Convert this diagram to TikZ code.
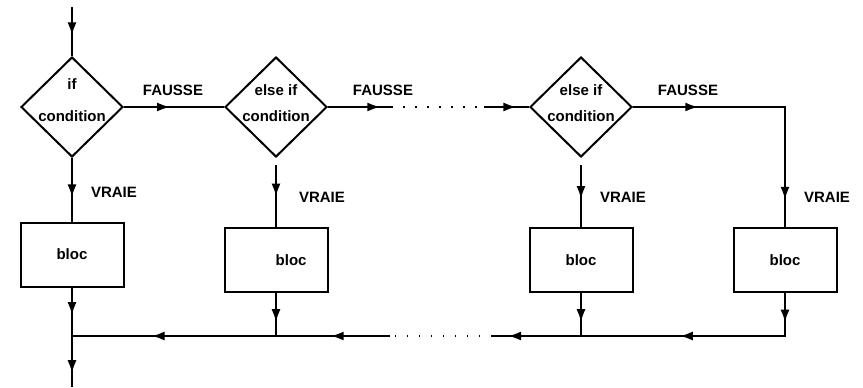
\documentclass[tikz,border=0pt]{standalone}
\usepackage{fontspec}
\setmainfont{Liberation Sans}
\usetikzlibrary{shapes.geometric,arrows.meta,decorations.markings}
\tikzset{
  cond/.style={draw,diamond,line width=2pt,minimum width=102pt,minimum height=100pt,inner sep=0pt},
  bloc/.style={draw,rectangle,line width=2pt,minimum width=103pt,minimum height=64pt,inner sep=0pt,font=\fontsize{15}{18}\selectfont\bfseries},
  txt/.style={align=center,inner sep=0pt,font=\fontsize{15}{18}\selectfont\bfseries},
  fl/.style={postaction={decorate,decoration={markings,mark=at position #1 with {\arrow{>}}}}},
  pts/.style={line width=1.2pt,dash pattern=on 1.5pt off 10.5pt}
}
\begin{document}
\begin{tikzpicture}[>={Latex[length=13pt,width=9pt]},x=1pt,y=-1pt,line width=2pt]
\useasboundingbox (0,0) rectangle (863,388);

% tests
\node[cond] (d1) at (72,107) {};
\node[cond] (d2) at (276,107) {};
\node[cond] (d3) at (581,107) {};
\node[txt] (t1) at (72,100) {if\\[14pt]condition};
\node[txt] (t2) at (276,103) {else if\\[8pt]condition};
\node[txt] (t3) at (581,103) {else if\\[8pt]condition};

% blocs
\node[bloc] (b1) at (72,254.5) {bloc};
\node[bloc,text width=61pt,align=right] (b2) at (276,260) {bloc};
\node[bloc] (b3) at (581,260) {bloc};
\node[bloc] (b4) at (785,260) {bloc};

% labels
\node[txt] (f1) at (173,90) {FAUSSE};
\node[txt] (f2) at (383,90) {FAUSSE};
\node[txt] (f3) at (688,90) {FAUSSE};
\node[txt] (v1) at (114,192) {VRAIE};
\node[txt] (v2) at (322,197) {VRAIE};
\node[txt] (v3) at (623,197) {VRAIE};
\node[txt] (v4) at (827,197) {VRAIE};

% points de passage
\coordinate (s) at (72,7);
\coordinate (g2) at ([yshift=-7pt]d2.south);
\coordinate (g3) at ([yshift=-7pt]d3.south);
\coordinate (e1) at (391,107);
\coordinate (e4) at (484,107);
\coordinate (k1) at (785,107);
\coordinate (k2) at (785,336);
\coordinate (c3) at (581,336);
\coordinate (e3) at (492,336);
\coordinate (e2) at (390,336);
\coordinate (c2) at (276,336);
\coordinate (c1) at (72,336);
\coordinate (fin) at (72,387);

% haut
\draw[fl=0.58] (s)--(d1.north);
\draw[fl=0.46] (d1.east)--(d2.west);
\draw[fl=0.83] (d2.east)--(e1);
\draw[pts] (e1)--(e4);
\draw[fl=0.72] (e4)--(d3.west);
\draw[fl=0.24,fl=0.9] (d3.east)--(k1)--(b4.north);

% vers les blocs
\draw[fl=0.62] (d1.south)--(b1.north);
\draw[fl=0.51] (g2)--(b2.north);
\draw[fl=0.55] (g3)--(b3.north);

% retour
\draw[fl=0.12,fl=0.6] (b4.south)--(k2)--(c3);
\draw[fl=0.68] (b3.south)--(c3);
\draw[fl=0.82] (c3)--(e3);
\draw[pts] (e3)--(e2);
\draw[fl=0.52] (e2)--(c2);
\draw[fl=0.68] (b2.south)--(c2);
\draw[fl=0.61] (c2)--(c1);
\draw[fl=0.57] (b1.south)--(c1);
\draw[fl=0.73] (c1)--(fin);
\end{tikzpicture}
\end{document}
